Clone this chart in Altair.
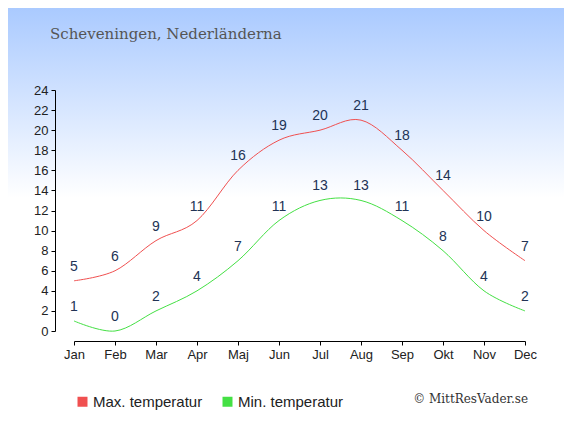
import altair as alt
import pandas as pd

months = ["Jan", "Feb", "Mar", "Apr", "Maj", "Jun", "Jul", "Aug", "Sep", "Okt", "Nov", "Dec"]
max_temp = [5, 6, 9, 11, 16, 19, 20, 21, 18, 14, 10, 7]
min_temp = [1, 0, 2, 4, 7, 11, 13, 13, 11, 8, 4, 2]
series = ["Max. temperatur", "Min. temperatur"]
line_colors = ["#f05050", "#44e044"]
title_text = "Scheveningen, Nederländerna"
credit_text = "© MittResVader.se"

rows = []
for i, m in enumerate(months):
    rows.append({"i": i, "month": m, "serie": series[0], "temp": max_temp[i]})
    rows.append({"i": i, "month": m, "serie": series[1], "temp": min_temp[i]})
df = pd.DataFrame(rows)

W, H = 451, 241
PL, PT, PR, PB = 66, 82, 39, 90

label_expr = "[" + ",".join(f"'{m}'" for m in months) + "][datum.value]"

x_enc = alt.X(
    "i:Q",
    scale=alt.Scale(domain=[0, 11], nice=False, zero=False),
    axis=alt.Axis(values=list(range(12)), labelExpr=label_expr, offset=10, grid=False,
                  title=None, tickSize=4, domainColor="#000", tickColor="#000",
                  labelColor="#222", labelFontSize=13, labelFont="Liberation Sans",
                  labelPadding=3, labelFlush=False, labelOverlap=False, zindex=2),
)
y_enc = alt.Y(
    "temp:Q",
    scale=alt.Scale(domain=[0, 24], nice=False, zero=False),
    axis=alt.Axis(values=list(range(0, 25, 2)), offset=19, grid=False, title=None,
                  tickSize=4, domainColor="#000", tickColor="#000", labelColor="#222",
                  labelFontSize=13, labelFont="Liberation Sans", labelPadding=3,
                  labelOverlap=False, labelFlush=False, zindex=2),
)
color_scale = alt.Scale(domain=series, range=line_colors)

bg = alt.Chart(pd.DataFrame({"a": [0]})).mark_rect(
    color={"gradient": "linear", "x1": 0, "y1": 0, "x2": 0, "y2": 1,
           "stops": [{"offset": 0, "color": "#aacaff"},
                     {"offset": 0.46, "color": "#ffffff"},
                     {"offset": 1, "color": "#ffffff"}]}
).encode(
    x=alt.value(-PL), x2=alt.value(W + PR), y=alt.value(-PT), y2=alt.value(H + PB)
)

legend_layer = alt.Chart(df).transform_filter("false").mark_square(
    filled=True, opacity=1
).encode(
    color=alt.Color(
        "serie:N", scale=color_scale,
        legend=alt.Legend(orient="none", legendX=1, legendY=304, direction="horizontal",
                          title=None, symbolType="square", symbolSize=100,
                          symbolStrokeWidth=0, symbolOpacity=1, labelFontSize=15,
                          labelFont="Liberation Sans", labelColor="#222",
                          columnPadding=17, labelOffset=3, padding=0, zindex=2),
    )
)

lines = alt.Chart(df).mark_line(interpolate="cardinal", strokeWidth=1).encode(
    x=x_enc, y=y_enc, color=alt.Color("serie:N", scale=color_scale, legend=None)
)

labels = alt.Chart(df).mark_text(
    baseline="bottom", dy=-7, fontSize=14, font="Liberation Sans", color="#223355"
).encode(x=x_enc, y=y_enc, text="temp:Q")

title = alt.Chart(pd.DataFrame({"t": [title_text]})).mark_text(
    align="left", baseline="alphabetic", font="DejaVu Serif", fontSize=15, color="#555555"
).encode(x=alt.value(-24), y=alt.value(-51), text="t:N")

credit = alt.Chart(pd.DataFrame({"t": [credit_text]})).mark_text(
    align="right", baseline="alphabetic", font="DejaVu Serif", fontSize=12, color="#333333"
).encode(x=alt.value(454), y=alt.value(313), text="t:N")

chart = alt.layer(bg, legend_layer, lines, labels, title, credit).properties(
    width=W, height=H,
    autosize=alt.AutoSizeParams(type="none"),
    padding={"left": PL, "top": PT, "right": PR, "bottom": PB},
).configure_view(stroke=None)

chart.save("out.html", embed_options={"renderer": "svg", "actions": False})
